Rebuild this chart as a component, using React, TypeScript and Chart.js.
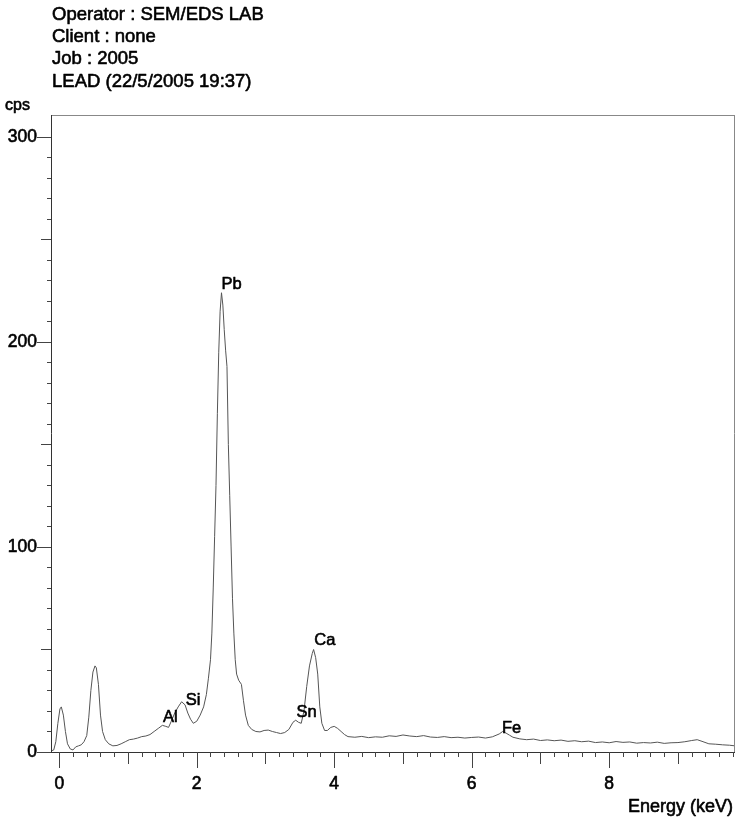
import React, { useEffect, useRef } from "react";
import { Chart, registerables } from "chart.js";

Chart.register(...registerables);

const headerLines = [
  "Operator : SEM/EDS LAB",
  "Client : none",
  "Job : 2005",
  "LEAD (22/5/2005 19:37)",
];

const energies = [
  -0.12, -0.08, -0.05, -0.02, 0.01, 0.03, 0.06, 0.09, 0.12, 0.16, 0.2, 0.24, 0.28, 0.32, 0.36, 0.4,
  0.43, 0.46, 0.49, 0.52, 0.54, 0.57, 0.6, 0.63, 0.67, 0.72, 0.78, 0.84, 0.9, 0.96, 1.02, 1.08,
  1.14, 1.2, 1.26, 1.32, 1.38, 1.44, 1.5, 1.55, 1.59, 1.63, 1.68, 1.73, 1.78, 1.83, 1.87, 1.91,
  1.95, 2.0, 2.05, 2.1, 2.14, 2.17, 2.2, 2.22, 2.24, 2.26, 2.28, 2.3, 2.32, 2.34, 2.36, 2.38,
  2.4, 2.42, 2.44, 2.46, 2.48, 2.5, 2.52, 2.54, 2.56, 2.58, 2.61, 2.65, 2.68, 2.71, 2.75, 2.8,
  2.86, 2.92, 2.98, 3.04, 3.1, 3.16, 3.22, 3.28, 3.34, 3.4, 3.44, 3.48, 3.52, 3.56, 3.6, 3.64,
  3.68, 3.7, 3.73, 3.76, 3.79, 3.82, 3.86, 3.9, 3.95, 4.0, 4.05, 4.1, 4.15, 4.2, 4.3, 4.4,
  4.5, 4.6, 4.7, 4.8, 4.9, 5.0, 5.1, 5.2, 5.3, 5.4, 5.5, 5.6, 5.7, 5.8, 5.9, 6.0,
  6.1, 6.2, 6.3, 6.4, 6.45, 6.5, 6.55, 6.6, 6.7, 6.8, 6.9, 7.0, 7.1, 7.2, 7.3, 7.4,
  7.5, 7.6, 7.7, 7.8, 7.9, 8.0, 8.1, 8.2, 8.3, 8.4, 8.5, 8.6, 8.7, 8.8, 8.9, 9.0,
  9.1, 9.2, 9.28, 9.35, 9.45, 9.55, 9.65, 9.75, 9.83,
];

const counts = [
  0.5, 1, 5, 14, 21, 22, 18, 10, 4, 1.5, 1, 2.5, 3, 3.5, 5, 8,
  17, 30, 39, 42, 41, 33, 18, 10, 6, 4, 3, 3.2, 4, 5, 6, 6.3,
  6.8, 7.5, 7.8, 8.5, 10, 11.5, 13, 12.5, 12, 15, 19, 22, 24.5, 23, 19, 16,
  14, 15, 18, 22, 28, 36, 45, 58, 80, 105, 130, 165, 195, 215, 224, 218,
  206, 196, 188, 150, 125, 100, 75, 58, 45, 38, 35, 33, 25, 18, 13, 11,
  10, 9.8, 10.5, 10.7, 10, 9.5, 9, 9.5, 11, 14.5, 15.5, 14.5, 14, 20, 32, 42,
  48, 50, 46, 38, 22, 14, 10.5, 10.5, 12, 12.5, 11.5, 10, 8.5, 7.5, 7.2, 7.6,
  7.0, 7.4, 7.2, 7.9, 7.6, 8.3, 7.8, 7.5, 8.0, 7.3, 7.1, 7.5, 7.0, 7.2, 6.8, 7.1,
  7.3, 6.8, 7.4, 8.8, 10.0, 9.2, 8.2, 7.2, 6.4, 6.0, 6.3, 5.6, 5.9, 5.5, 5.8, 5.2,
  5.5, 5.0, 5.3, 4.6, 4.9, 4.5, 5.1, 4.7, 4.9, 4.3, 4.6, 4.4, 4.8, 4.2, 4.5, 4.6,
  5.0, 5.6, 6.0, 5.2, 4.0, 3.8, 3.5, 3.3, 3.0,
];

const peakNames = ["Al", "Si", "Pb", "Sn", "Ca", "Fe"];
const peakLabelEnergy = [1.51, 1.84, 2.36, 3.45, 3.71, 6.44];
const peakLabelCps = [14.8, 23, 226, 17.2, 52, 9.1];

const xTickLabels = [0, 2, 4, 6, 8];
const yTickLabels = [0, 100, 200, 300];

const X_MIN = -0.12;
const X_MAX = 9.83;
const Y_MIN = 0;
const Y_MAX = 310.7;

const FONT = "'Liberation Sans', Arial, sans-serif";

function heavyText(ctx: CanvasRenderingContext2D, t: string, x: number, y: number) {
  ctx.fillText(t, x, y);
  ctx.strokeText(t, x, y);
}

const decorPlugin = {
  id: "edsDecor",
  afterDraw(chart: any) {
    const ctx = chart.ctx as CanvasRenderingContext2D;
    const xs = chart.scales.x;
    const ys = chart.scales.y;
    const area = chart.chartArea;
    ctx.save();

    // frame
    ctx.lineWidth = 1;
    ctx.strokeStyle = "#888";
    ctx.beginPath();
    ctx.moveTo(area.left, area.top + 0.5);
    ctx.lineTo(area.right, area.top + 0.5);
    ctx.moveTo(area.right - 0.5, area.top);
    ctx.lineTo(area.right - 0.5, area.bottom);
    ctx.stroke();

    ctx.strokeStyle = "#333";
    ctx.beginPath();
    ctx.moveTo(Math.round(area.left) + 0.5, area.top);
    ctx.lineTo(Math.round(area.left) + 0.5, area.bottom);
    ctx.moveTo(area.left, Math.round(area.bottom) + 0.5);
    ctx.lineTo(area.right, Math.round(area.bottom) + 0.5);
    ctx.stroke();

    // x ticks every 0.2 keV
    ctx.strokeStyle = "#444";
    ctx.beginPath();
    for (let i = 0; i * 0.2 <= X_MAX + 1e-9; i++) {
      const v = i * 0.2;
      const px = Math.round(xs.getPixelForValue(v)) + 0.5;
      let len = 5;
      if (i % 10 === 0) len = 16;
      else if (i % 5 === 0) len = 12;
      ctx.moveTo(px, area.bottom);
      ctx.lineTo(px, area.bottom + len);
    }
    // y ticks every 10 cps
    for (let v = 0; v <= 300; v += 10) {
      const py = Math.round(ys.getPixelForValue(v)) + 0.5;
      let len = 4;
      if (v % 100 === 0) len = 14;
      else if (v % 50 === 0) len = 10;
      ctx.moveTo(area.left, py);
      ctx.lineTo(area.left - len, py);
    }
    ctx.stroke();

    ctx.fillStyle = "#000";
    ctx.strokeStyle = "#000";
    ctx.lineWidth = 0.6;
    ctx.lineJoin = "round";
    // x tick labels
    ctx.font = `17.5px ${FONT}`;
    ctx.textAlign = "center";
    ctx.textBaseline = "middle";
    xTickLabels.forEach((v) => {
      heavyText(ctx, String(v), xs.getPixelForValue(v), area.bottom + 32);
    });
    // y tick labels
    ctx.textAlign = "right";
    yTickLabels.forEach((v) => {
      heavyText(ctx, String(v), area.left - 14, ys.getPixelForValue(v));
    });

    // axis titles
    ctx.font = `16px ${FONT}`;
    ctx.textAlign = "left";
    heavyText(ctx, "cps", 5, area.top - 9);
    ctx.font = `18px ${FONT}`;
    ctx.textAlign = "right";
    heavyText(ctx, "Energy (keV)", area.right - 2, area.bottom + 55);

    // header
    ctx.font = `18.5px ${FONT}`;
    ctx.textAlign = "left";
    headerLines.forEach((t, i) => {
      heavyText(ctx, t, 52, 15 + i * 22.2);
    });

    // peak labels
    ctx.font = `16.5px ${FONT}`;
    ctx.textAlign = "left";
    ctx.textBaseline = "alphabetic";
    peakNames.forEach((n, i) => {
      heavyText(ctx, n, xs.getPixelForValue(peakLabelEnergy[i]), ys.getPixelForValue(peakLabelCps[i]));
    });

    ctx.restore();
  },
};

export default function App() {
  const ref = useRef<HTMLCanvasElement | null>(null);

  useEffect(() => {
    document.body.style.margin = "0";
    const canvas = ref.current;
    if (!canvas) return;
    const chart = new Chart(canvas, {
      type: "line",
      data: {
        datasets: [
          {
            data: energies.map((e, i) => ({ x: e, y: counts[i] })),
            borderColor: "#555",
            borderWidth: 1,
            pointRadius: 0,
            tension: 0,
            fill: false,
          },
        ],
      },
      options: {
        animation: false,
        responsive: false,
        maintainAspectRatio: false,
        layout: { padding: { left: 51, right: 2, top: 115, bottom: 70 } },
        plugins: { legend: { display: false }, tooltip: { enabled: false } },
        scales: {
          x: { type: "linear", min: X_MIN, max: X_MAX, display: false },
          y: { type: "linear", min: Y_MIN, max: Y_MAX, display: false },
        },
      },
      plugins: [decorPlugin],
    });
    return () => chart.destroy();
  }, []);

  return (
    <div style={{ width: 737, height: 822, background: "#fff" }}>
      <canvas ref={ref} width={737} height={822} style={{ display: "block" }} />
    </div>
  );
}
